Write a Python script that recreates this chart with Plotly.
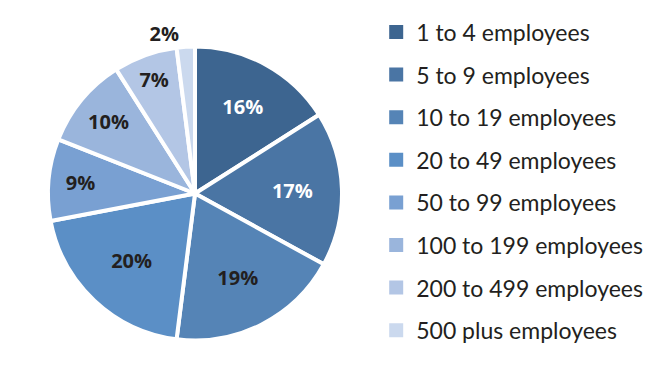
import plotly.graph_objects as go

categories = ["1 to 4 employees", "5 to 9 employees", "10 to 19 employees", "20 to 49 employees",
              "50 to 99 employees", "100 to 199 employees", "200 to 499 employees", "500 plus employees"]
values = [16, 17, 19, 20, 9, 10, 7, 2]
colors = ["#3d6590", "#4a75a4", "#5584b6", "#5b8fc6", "#79a0d2", "#9ab5dc", "#b3c6e5", "#cbd9ee"]
text_colors = ["white", "white", "#231f20", "#231f20", "#231f20", "#231f20", "#231f20", "#231f20"]
positions = ["inside"] * 7 + ["outside"]

W, H = 654, 366
cx, cy, r = 187, 185.5, 147

fig = go.Figure()
fig.add_trace(go.Pie(
    labels=categories, values=values, sort=False, direction="clockwise", rotation=0,
    marker=dict(colors=colors, line=dict(color="white", width=4)),
    texttemplate="%{value}%", textposition=positions,
    insidetextorientation="horizontal",
    textfont=dict(family="Open Sans", size=20, color=text_colors, weight=700),
    outsidetextfont=dict(family="Open Sans", size=20, color="#231f20", weight=700),
    showlegend=False, hoverinfo="label+value",
    domain=dict(x=[(cx - r) / W, (cx + r) / W], y=[(H - cy - r) / H, (H - cy + r) / H]),
))
for i, (c, col) in enumerate(zip(categories, colors)):
    fig.add_trace(go.Scatter(
        x=[None], y=[None], mode="markers", name=c, legendgroup=c,
        marker=dict(symbol="square", size=14, color=col),
    ))

fig.update_layout(
    width=W, height=H, margin=dict(l=0, r=0, t=0, b=0),
    paper_bgcolor="white", plot_bgcolor="white",
    xaxis=dict(visible=False), yaxis=dict(visible=False),
    legend=dict(x=0.563, y=0.993, xanchor="left", yanchor="top", traceorder="grouped",
                tracegroupgap=9.7, font=dict(family="Lato", size=23, color="#231f20")),
)
fig.write_html("out.html")
